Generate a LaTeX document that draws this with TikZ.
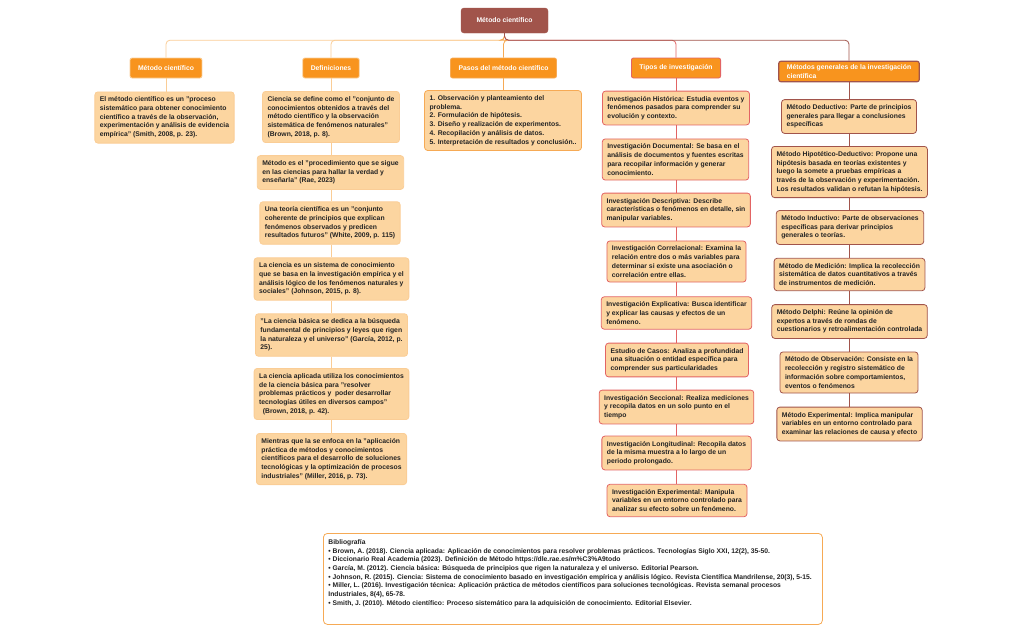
\documentclass[tikz,border=0pt]{standalone}
\usepackage{fontspec}
\setmainfont{Liberation Sans}
\usetikzlibrary{positioning}

\definecolor{rootred}{RGB}{161,84,75}
\definecolor{headorange}{RGB}{248,148,30}
\definecolor{noteback}{RGB}{252,213,160}
\definecolor{lineA}{RGB}{250,205,150}
\definecolor{lineB}{RGB}{246,170,85}
\definecolor{lineC}{RGB}{226,100,100}
\definecolor{lineD}{RGB}{161,84,75}
\definecolor{inktext}{RGB}{35,35,35}

\begin{document}
\begin{tikzpicture}[
  x=1pt,y=-1pt,
  font=\fontsize{6.8}{8.7}\selectfont\bfseries,
  root/.style={draw=rootred,fill=rootred,text=white,rounded corners=3pt,
    minimum width=87pt,minimum height=25pt},
  head/.style={draw=#1,line width=0.8pt,fill=headorange,text=white,rounded corners=2pt,
    minimum height=20pt,inner xsep=8pt,align=left},
  note/.style={draw=#1,line width=0.8pt,fill=noteback,text=inktext,rounded corners=3pt,
    align=left,inner xsep=5pt,inner ysep=5pt},
  link/.style={draw=#1,line width=0.8pt}
]
\useasboundingbox (0,0) rectangle (1022,633);

\node[root] (root) at (504.5,20.5) {Método científico};

% cabeceras
\node[head=lineA] (h1) at (166,68) {Método científico};
\node[head=lineA] (h2) at (331,68) {Definiciones};
\node[head=lineB] (h3) at (503.5,68) {Pasos del método científico};
\node[head=lineC] (h4) at (676,68) {Tipos de investigación};
\node[head=lineD,line width=1.2pt] (h5) at (849,71.5) {Métodos generales de la investigación\\científica};

\foreach \h/\c in {h1/lineA,h2/lineA,h3/lineB,h4/lineC,h5/lineD}
  \draw[link=\c,rounded corners=4pt] (root.south) -- ++(0,7) -| (\h.north);

% columna 1
\node[note=lineA] (c1) at (164.5,117.5) {El método científico es un "proceso\\sistemático para obtener conocimiento\\científico a través de la observación,\\experimentación y análisis de evidencia\\empírica" (Smith, 2008, p. 23).};
\draw[link=lineA] (h1.south) -- (h1.south |- c1.north);

% columna 2
\node[note=lineA] (d1) at (331,117) {Ciencia se define como el "conjunto de\\conocimientos obtenidos a través del\\método científico y la observación\\sistemática de fenómenos naturales"\\ (Brown, 2018, p. 8).};
\node[note=lineA] (d2) at (330.5,172.5) {Método es el "procedimiento que se sigue\\en las ciencias para hallar la verdad y\\enseñarla" (Rae, 2023)};
\node[note=lineA] (d3) at (330,223) {Una teoría científica es un "conjunto\\coherente de principios que explican\\fenómenos observados y predicen\\resultados futuros" (White, 2009, p. 115)};
\node[note=lineA] (d4) at (331.5,279) {La ciencia es un sistema de conocimiento\\que se basa en la investigación empírica y el\\análisis lógico de los fenómenos naturales y\\sociales" (Johnson, 2015, p. 8).};
\node[note=lineA] (d5) at (331.5,335) {"La ciencia básica se dedica a la búsqueda\\fundamental de principios y leyes que rigen\\la naturaleza y el universo" (García, 2012, p.\\25).};
\node[note=lineA] (d6) at (331.5,394) {La ciencia aplicada utiliza los conocimientos\\de la ciencia básica para "resolver\\problemas prácticos y\ \ poder desarrollar\\tecnologías útiles en diversos campos"\\\ \ (Brown, 2018, p. 42).};
\node[note=lineA] (d7) at (331.5,459) {Mientras que la se enfoca en la "aplicación\\práctica de métodos y conocimientos\\científicos para el desarrollo de soluciones\\tecnológicas y la optimización de procesos\\industriales" (Miller, 2016, p. 73).};
\foreach \a/\b in {h2/d1,d1/d2,d2/d3,d3/d4,d4/d5,d5/d6,d6/d7}
  \draw[link=lineA] (\a.south -| h2) -- (\b.north -| h2);

% columna 3
\node[note=lineB] (p1) at (503,120.5) {1. Observación y planteamiento del\\problema.\\2. Formulación de hipótesis.\\3. Diseño y realización de experimentos.\\4. Recopilación y análisis de datos.\\5. Interpretación de resultados y conclusión..};
\draw[link=lineB] (h3.south) -- (h3.south |- p1.north);

% columna 4
\node[note=lineC] (t1) at (676,108) {Investigación Histórica: Estudia eventos y\\fenómenos pasados para comprender su\\evolución y contexto.};
\node[note=lineC] (t2) at (675.5,159.5) {Investigación Documental: Se basa en el\\análisis de documentos y fuentes escritas\\para recopilar información y generar\\conocimiento.};
\node[note=lineC] (t3) at (676,210) {Investigación Descriptiva: Describe\\características o fenómenos en detalle, sin\\manipular variables.};
\node[note=lineC] (t4) at (676.5,261.5) {Investigación Correlacional: Examina la\\relación entre dos o más variables para\\determinar si existe una asociación o\\correlación entre ellas.};
\node[note=lineC] (t5) at (676.5,313) {Investigación Explicativa: Busca identificar\\y explicar las causas y efectos de un\\fenómeno.};
\node[note=lineC] (t6) at (677,360) {Estudio de Casos: Analiza a profundidad\\una situación o entidad específica para\\comprender sus particularidades};
\node[note=lineC] (t7) at (676.5,407) {Investigación Seccional: Realiza mediciones\\y recopila datos en un solo punto en el\\tiempo};
\node[note=lineC] (t8) at (676.5,453) {Investigación Longitudinal: Recopila datos\\de la misma muestra a lo largo de un\\periodo prolongado.};
\node[note=lineC] (t9) at (677,500.5) {Investigación Experimental: Manipula\\variables en un entorno controlado para\\analizar su efecto sobre un fenómeno.};
\foreach \a/\b in {h4/t1,t1/t2,t2/t3,t3/t4,t4/t5,t5/t6,t6/t7,t7/t8,t8/t9}
  \draw[link=lineC] (\a.south -| h4) -- (\b.north -| h4);

% columna 5
\node[note=lineD] (m1) at (849,116.5) {Método Deductivo: Parte de principios\\generales para llegar a conclusiones\\específicas};
\node[note=lineD] (m2) at (849.5,172) {Método Hipotético-Deductivo: Propone una\\hipótesis basada en teorías existentes y\\luego la somete a pruebas empíricas a\\través de la observación y experimentación.\\Los resultados validan o refutan la hipótesis.};
\node[note=lineD] (m3) at (850,227.5) {Método Inductivo: Parte de observaciones\\específicas para derivar principios\\generales o teorías.};
\node[note=lineD] (m4) at (849.5,274.5) {Método de Medición: Implica la recolección\\sistemática de datos cuantitativos a través\\de instrumentos de medición.};
\node[note=lineD] (m5) at (849.5,321.5) {Método Delphi: Reúne la opinión de\\expertos a través de rondas de\\cuestionarios y retroalimentación controlada};
\node[note=lineD] (m6) at (849,372.5) {Método de Observación: Consiste en la\\recolección y registro sistemático de\\información sobre comportamientos,\\eventos o fenómenos};
\node[note=lineD] (m7) at (849.5,424) {Método Experimental: Implica manipular\\variables en un entorno controlado para\\examinar las relaciones de causa y efecto};
\foreach \a/\b in {h5/m1,m1/m2,m2/m3,m3/m4,m4/m5,m5/m6,m6/m7}
  \draw[link=lineD] (\a.south -| h5) -- (\b.north -| h5);

% bibliografia
\node[draw=lineB,line width=0.8pt,fill=white,rounded corners=4pt,text=inktext,
  anchor=north west,inner xsep=5pt,inner ysep=6pt,font=\fontsize{6.75}{8.7}\selectfont\bfseries] (bib) at (323,533)
 {\parbox[t][79pt][t]{489pt}{\raggedright
  \mbox{Bibliografía}\\
  \mbox{• Brown, A. (2018). Ciencia aplicada: Aplicación de conocimientos para resolver problemas prácticos. Tecnologías Siglo XXI, 12(2), 35-50.}\\
  \mbox{• Diccionario Real Academia (2023). Definición de Método https://dle.rae.es/m\%C3\%A9todo}\\
  \mbox{• García, M. (2012). Ciencia básica: Búsqueda de principios que rigen la naturaleza y el universo. Editorial Pearson.}\\
  \mbox{• Johnson, R. (2015). Ciencia: Sistema de conocimiento basado en investigación empírica y análisis lógico. Revista Científica Mandrilense, 20(3), 5-15.}\\
  \mbox{• Miller, L. (2016). Investigación técnica: Aplicación práctica de métodos científicos para soluciones tecnológicas. Revista semanal procesos}\\
  \mbox{Industriales, 8(4), 65-78.}\\
  \mbox{• Smith, J. (2010). Método científico: Proceso sistemático para la adquisición de conocimiento. Editorial Elsevier.}}};
\end{tikzpicture}
\end{document}
